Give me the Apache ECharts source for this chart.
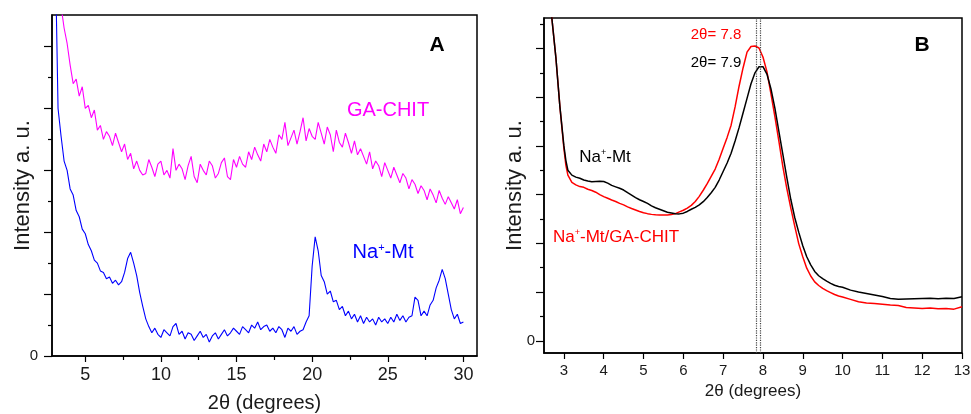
<!DOCTYPE html>
<html lang="en">
<head>
  <meta charset="UTF-8">
  <title>XRD patterns</title>
  <script src="https://cdn.jsdelivr.net/npm/echarts@6/dist/echarts.min.js"></script>
  <style>
    html, body { margin: 0; padding: 0; background: #fff; }
    #chart { width: 971px; height: 414px; }
  </style>
</head>
<body>
<div id="chart"></div>
<script>
  // panel A: 2theta positions shared by both traces
  var xA = [3.0, 3.2, 3.4, 3.6, 3.8, 4.0, 4.2, 4.4, 4.6, 4.8, 5.0, 5.2, 5.4, 5.6, 5.8, 6.0, 6.2, 6.4, 6.6, 6.8,
    7.0, 7.2, 7.4, 7.6, 7.8, 8.0, 8.2, 8.4, 8.6, 8.8, 9.0, 9.2, 9.4, 9.6, 9.8, 10.0, 10.2, 10.4, 10.6, 10.8,
    11.0, 11.2, 11.4, 11.6, 11.8, 12.0, 12.2, 12.4, 12.6, 12.8, 13.0, 13.2, 13.4, 13.6, 13.8, 14.0, 14.2, 14.4, 14.6, 14.8,
    15.0, 15.2, 15.4, 15.6, 15.8, 16.0, 16.2, 16.4, 16.6, 16.8, 17.0, 17.2, 17.4, 17.6, 17.8, 18.0, 18.2, 18.4, 18.6, 18.8,
    19.0, 19.2, 19.4, 19.6, 19.8, 20.0, 20.2, 20.4, 20.6, 20.8, 21.0, 21.2, 21.4, 21.6, 21.8, 22.0, 22.2, 22.4, 22.6, 22.8,
    23.0, 23.2, 23.4, 23.6, 23.8, 24.0, 24.2, 24.4, 24.6, 24.8, 25.0, 25.2, 25.4, 25.6, 25.8, 26.0, 26.2, 26.4, 26.6, 26.8,
    27.0, 27.2, 27.4, 27.6, 27.8, 28.0, 28.2, 28.4, 28.6, 28.8, 29.0, 29.2, 29.4, 29.6, 29.8, 30.0];

  // GA-CHIT (magenta)
  var gaChit = [13.5, 12.4, 11.3, 10.6, 10.1, 9.4, 8.8, 8.95, 8.4, 8.7, 8.0, 8.1, 7.7, 7.95, 7.3, 7.45, 7.0, 7.25, 7.1, 6.8,
    7.2, 6.9, 6.6, 6.85, 6.35, 6.55, 6.05, 6.3, 6.0, 5.85,
    5.9, 6.35, 6.1, 5.8, 6.2, 6.3, 5.85, 6.0, 5.75, 6.7, 6.0, 6.2, 6.05, 5.7, 6.15, 6.45, 5.8, 5.6, 6.2, 6.0,
    5.85, 6.3, 6.15, 5.75, 5.9, 6.25, 6.4, 5.8, 5.7, 6.35, 6.1,
    6.45, 6.2, 6.1, 6.6, 6.35, 6.75, 6.5, 6.3, 6.85, 6.6, 7.0, 6.75, 6.55, 7.15, 7.0, 7.55, 6.8, 7.05, 7.3, 6.85,
    7.25, 7.7, 6.95, 7.35, 7.1, 7.0, 7.55, 7.2, 6.85, 7.4, 7.15, 6.6, 7.3, 6.9, 6.75, 7.2, 6.9, 6.55, 6.95, 6.5,
    6.7, 6.45, 6.2, 6.6, 6.05, 6.3, 6.15, 5.8, 6.25, 6.0, 5.75, 6.1, 5.85, 5.6, 5.9, 5.75, 5.4, 5.7, 5.55, 5.25,
    5.5, 5.35, 5.05, 5.4, 5.2, 4.95, 5.35, 5.1, 4.9, 5.15, 4.95, 4.75, 5.05, 4.6, 4.8];

  // Na+-Mt (blue)
  var naMtA = [13.5, 8.0, 7.1, 6.3, 6.0, 5.4, 5.2, 4.7, 4.5, 4.1, 3.95, 3.6, 3.4, 3.1, 3.0, 2.75, 2.7, 2.5, 2.55, 2.35,
    2.45, 2.3, 2.4, 2.7, 3.15, 3.35, 3.0, 2.6, 2.05, 1.6,
    1.2, 0.95, 0.75, 0.9, 0.7, 0.6, 0.85, 0.75, 0.65, 0.95, 1.05, 0.7, 0.8, 0.55, 0.75, 0.7, 0.5, 0.65, 0.8, 0.6,
    0.7, 0.45, 0.65, 0.75, 0.55, 0.7, 0.85, 0.65, 0.75, 0.9, 0.8, 0.7, 0.95, 0.85, 0.75, 1.0, 0.9, 1.1, 0.85, 0.95,
    1.0, 0.8, 0.9, 0.75, 0.95, 0.85, 0.6, 0.9, 0.8, 0.95, 0.7, 0.8, 0.85, 1.1, 1.3,
    2.9, 3.85, 3.4, 2.6, 2.4, 2.0, 2.1, 1.75, 1.8, 1.5, 1.6, 1.3, 1.45, 1.2, 1.35,
    1.1, 1.3, 1.05, 1.25, 1.1, 1.2, 1.0, 1.25, 1.1, 1.2, 1.05, 1.25, 1.1, 1.35, 1.15, 1.3, 1.1, 1.25, 1.3, 1.9,
    1.8, 1.3, 1.45, 1.3, 1.65, 1.8, 2.2, 2.45, 2.8, 2.5, 2.0, 1.5, 1.2, 1.35, 1.05, 1.1];

  // panel B: [2theta, intensity]
  var naMtB = [[2.6, 15.0], [2.7, 13.2], [2.8, 11.6], [2.9, 9.6], [3.0, 8.0], [3.05, 7.4], [3.1, 7.0], [3.2, 6.8],
    [3.3, 6.72], [3.4, 6.67], [3.5, 6.6], [3.6, 6.56], [3.7, 6.53], [3.8, 6.54], [3.9, 6.55], [4.0, 6.54],
    [4.1, 6.47], [4.2, 6.38], [4.3, 6.32], [4.4, 6.26], [4.5, 6.19], [4.6, 6.08], [4.7, 5.98], [4.8, 5.88],
    [4.9, 5.79], [5.0, 5.72], [5.1, 5.64], [5.2, 5.54], [5.3, 5.46], [5.4, 5.4], [5.5, 5.34], [5.6, 5.28],
    [5.7, 5.25], [5.8, 5.22], [5.9, 5.21], [6.0, 5.24], [6.1, 5.31], [6.2, 5.4], [6.3, 5.48], [6.4, 5.58],
    [6.5, 5.71], [6.6, 5.88], [6.7, 6.08], [6.8, 6.3], [6.9, 6.6], [7.0, 6.95], [7.1, 7.3], [7.2, 7.7],
    [7.3, 8.2], [7.4, 8.75], [7.5, 9.35], [7.6, 9.95], [7.7, 10.55], [7.8, 11.0], [7.9, 11.25], [7.95, 11.3],
    [8.0, 11.25], [8.1, 10.95], [8.2, 10.35], [8.3, 9.55], [8.4, 8.6], [8.5, 7.65], [8.6, 6.7], [8.7, 5.8],
    [8.8, 5.05], [8.9, 4.45], [9.0, 3.9], [9.1, 3.45], [9.2, 3.12], [9.3, 2.85], [9.4, 2.67], [9.5, 2.55],
    [9.6, 2.45], [9.7, 2.36], [9.8, 2.28], [9.9, 2.23], [10.0, 2.2], [10.2, 2.08], [10.4, 2.0], [10.6, 1.94],
    [10.8, 1.88], [11.0, 1.82], [11.2, 1.74], [11.4, 1.71], [11.6, 1.72], [11.8, 1.73], [12.0, 1.74], [12.2, 1.75],
    [12.4, 1.73], [12.6, 1.75], [12.8, 1.74], [13.0, 1.81]];

  var naMtGaChit = [[2.6, 15.0], [2.7, 13.2], [2.8, 11.6], [2.9, 9.6], [3.0, 7.9], [3.05, 7.2], [3.1, 6.8], [3.2, 6.5],
    [3.3, 6.4], [3.4, 6.33], [3.5, 6.3], [3.6, 6.22], [3.7, 6.17], [3.8, 6.1], [3.9, 6.0], [4.0, 5.92],
    [4.1, 5.85], [4.2, 5.78], [4.3, 5.72], [4.4, 5.64], [4.5, 5.58], [4.6, 5.5], [4.7, 5.43], [4.8, 5.37],
    [4.9, 5.31], [5.0, 5.26], [5.1, 5.22], [5.2, 5.19], [5.3, 5.17], [5.4, 5.16], [5.5, 5.16], [5.6, 5.16],
    [5.7, 5.18], [5.8, 5.22], [5.9, 5.29], [6.0, 5.36], [6.1, 5.45], [6.2, 5.56], [6.3, 5.72], [6.4, 5.93],
    [6.5, 6.18], [6.6, 6.45], [6.7, 6.75], [6.8, 7.05], [6.9, 7.45], [7.0, 7.9], [7.1, 8.35], [7.2, 8.85],
    [7.3, 9.6], [7.4, 10.45], [7.5, 11.2], [7.6, 11.85], [7.7, 12.08], [7.75, 12.13], [7.8, 12.1], [7.9, 12.02],
    [8.0, 11.65], [8.1, 11.05], [8.2, 10.15], [8.3, 9.2], [8.4, 8.2], [8.5, 7.15], [8.6, 6.25], [8.7, 5.45],
    [8.8, 4.7], [8.9, 3.98], [9.0, 3.45], [9.1, 2.98], [9.2, 2.66], [9.3, 2.42], [9.4, 2.27], [9.5, 2.15],
    [9.6, 2.06], [9.7, 1.98], [9.8, 1.9], [9.9, 1.84], [10.0, 1.8], [10.2, 1.7], [10.4, 1.6], [10.6, 1.55],
    [10.8, 1.53], [11.0, 1.5], [11.2, 1.47], [11.4, 1.45], [11.6, 1.37], [11.8, 1.35], [12.0, 1.33], [12.2, 1.35],
    [12.4, 1.32], [12.6, 1.33], [12.8, 1.3], [13.0, 1.4]];

  // peak positions marked with dotted lines
  var peakLines = [7.84, 7.94];

  // ticks
  var ticksAxMajor = [5, 10, 15, 20, 25, 30];
  var ticksAxMinor = [7.5, 12.5, 17.5, 22.5, 27.5];
  var ticksAyMajor = [0, 2, 4, 6, 8, 10];
  var ticksAyMinor = [1, 3, 5, 7, 9];
  var ticksBx = [3, 4, 5, 6, 7, 8, 9, 10, 11, 12, 13];
  var ticksByMajor = [0, 2, 4, 6, 8, 10, 12];
  var ticksByMinor = [1, 3, 5, 7, 9, 11, 13];

  var FONT = '"Liberation Sans", Arial, sans-serif';
  var INK = '#1a1a1a';

  function zip(xs, ys) {
    return xs.map(function(x, i) { return [x, ys[i]]; });
  }

  function xAx(grid, min, max, tickVals, labelVals, len, fontSize, name, gap, margin) {
    return {
      type: 'value', gridIndex: grid, min: min, max: max, position: 'bottom',
      name: name, nameLocation: 'middle', nameGap: gap, nameMoveOverlap: false,
      nameTextStyle: { fontFamily: FONT, fontSize: fontSize + 2, color: INK },
      axisLine: { show: !!name, onZero: false, lineStyle: { color: '#000', width: 1.5 } },
      axisTick: { show: true, customValues: tickVals, length: len, lineStyle: { color: '#000', width: 1.2 } },
      axisLabel: { show: !!labelVals, customValues: labelVals || [], fontFamily: FONT, fontSize: fontSize, color: INK, margin: margin },
      splitLine: { show: false }
    };
  }

  function yAx(grid, min, max, tickVals, len, name, gap, margin) {
    return {
      type: 'value', gridIndex: grid, min: min, max: max, position: 'left',
      name: name, nameLocation: 'middle', nameGap: gap, nameMoveOverlap: false,
      nameTextStyle: { fontFamily: FONT, fontSize: 22, color: INK },
      axisLine: { show: !!name, onZero: false, lineStyle: { color: '#000', width: 1.5 } },
      axisTick: { show: true, customValues: tickVals, length: len, lineStyle: { color: '#000', width: 1.2 } },
      axisLabel: { show: !!name, customValues: [0], fontFamily: FONT, fontSize: 15, color: INK, margin: margin,
        verticalAlign: 'middle' },
      splitLine: { show: false }
    };
  }

  function label(text, x, y, size, color, align, bold) {
    return {
      type: 'text', x: x, y: y,
      style: {
        text: text, fill: color, align: align || 'center', verticalAlign: 'middle',
        font: (bold ? 'bold ' : '') + size + 'px ' + FONT,
        rich: {
          n: { fontSize: size, fontFamily: FONT, fill: color },
          s: { fontSize: Math.round(size * 0.55), fontFamily: FONT, fill: color, verticalAlign: 'top' }
        }
      }
    };
  }

  var chart = echarts.init(document.getElementById('chart'));
  chart.setOption({
    animation: false,
    backgroundColor: '#fff',
    grid: [
      { left: 52, top: 15, right: 494, bottom: 58, show: true, borderColor: '#000', borderWidth: 1.5,
        outerBoundsMode: 'none' },
      { left: 544, top: 18, right: 9, bottom: 61, show: true, borderColor: '#000', borderWidth: 1.5,
        outerBoundsMode: 'none' }
    ],
    xAxis: [
      xAx(0, 2.8, 30.9, ticksAxMajor, ticksAxMajor, 6, 18, '2θ (degrees)', 37, 10),
      xAx(0, 2.8, 30.9, ticksAxMinor, null, 4, 18, '', 0, 0),
      xAx(1, 2.5, 13, ticksBx, ticksBx, 6, 15, '2θ (degrees)', 30, 10)
    ],
    yAxis: [
      yAx(0, 0, 11.02, ticksAyMajor, 8, 'Intensity a. u.', 18, 14),
      yAx(0, 0, 11.02, ticksAyMinor, 4, '', 0, 0),
      yAx(1, -0.5, 13.25, ticksByMajor, 8, 'Intensity a. u.', 18, 9),
      yAx(1, -0.5, 13.25, ticksByMinor, 4, '', 0, 0)
    ],
    series: [
      { type: 'line', xAxisIndex: 0, yAxisIndex: 0, data: zip(xA, gaChit), showSymbol: false,
        lineStyle: { color: '#ff00ff', width: 1.1 } },
      { type: 'line', xAxisIndex: 0, yAxisIndex: 0, data: zip(xA, naMtA), showSymbol: false,
        lineStyle: { color: '#0000ff', width: 1.1 } },
      { type: 'line', xAxisIndex: 2, yAxisIndex: 2, data: naMtGaChit, showSymbol: false,
        lineStyle: { color: '#ff0000', width: 1.5 },
        markLine: {
          silent: true, symbol: 'none', label: { show: false },
          lineStyle: { color: '#444', type: 'dotted', width: 1.2 },
          data: peakLines.map(function(v) { return { xAxis: v }; })
        } },
      { type: 'line', xAxisIndex: 2, yAxisIndex: 2, data: naMtB, showSymbol: false,
        lineStyle: { color: '#000', width: 1.5 } }
    ],
    graphic: [
      label('A', 437, 45, 21, '#000', 'center', true),
      label('GA-CHIT', 388, 110, 20, '#ff00ff'),
      label('{n|Na}{s|+}{n|-Mt}', 383, 252, 20, '#0000ff'),
      label('B', 922, 45, 21, '#000', 'center', true),
      label('2θ= 7.8', 716, 35, 15, '#ff0000'),
      label('2θ= 7.9', 716, 63, 15, '#000'),
      label('{n|Na}{s|+}{n|-Mt}', 605, 157, 17, '#000'),
      label('{n|Na}{s|+}{n|-Mt/GA-CHIT}', 553, 237, 17, '#ff0000', 'left')
    ]
  });
</script>
</body>
</html>
